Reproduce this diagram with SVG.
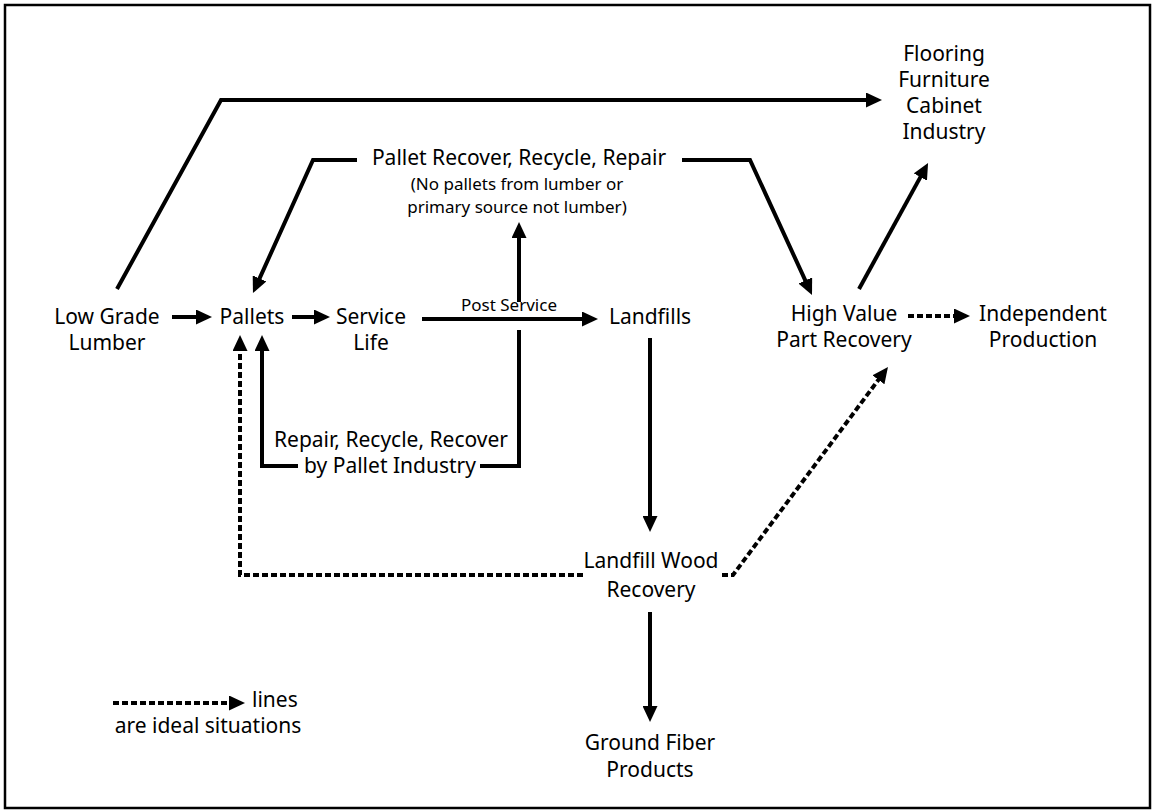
<svg xmlns="http://www.w3.org/2000/svg" width="1154" height="812" viewBox="0 0 1154 812">
<style>
text{font-family:"Noto Sans","DejaVu Sans",sans-serif;fill:#000;text-anchor:middle}
.m{font-size:21px}
.s{font-size:17px}
.p{font-size:17px}
.ln{fill:none;stroke:#000;stroke-width:4;stroke-linejoin:miter}
.a{marker-end:url(#ah)}
.d{stroke-dasharray:6 3}
</style>
<defs>
<marker id="ah" markerUnits="userSpaceOnUse" markerWidth="16" markerHeight="15" viewBox="0 0 16 15" refX="4" refY="7.5" orient="auto">
<path d="M0,0 L16,7.5 L0,15 z" fill="#000"/>
</marker>
</defs>
<rect x="5" y="5" width="1145" height="803" fill="#fff" stroke="#000" stroke-width="2.5"/>
<g id="connectors">
<path class="ln a" d="M117,289 L221,100 L870,100"/>
<path class="ln a" d="M172,317 L200,317"/>
<path class="ln a" d="M292,317 L318,317"/>
<path class="ln a" d="M422,319 L586,319"/>
<path class="ln a" d="M519,302 L519,234"/>
<path class="ln" d="M519,330 L519,466 L480,466"/>
<path class="ln a" d="M298,466 L262,466 L262,347"/>
<path class="ln a d" d="M583,575 L240,575 L240,347"/>
<path class="ln a" d="M357,160 L313,160 L257.9,282.1"/>
<path class="ln a" d="M682,160 L750,160 L807,284.1"/>
<path class="ln a" d="M650,338 L650,520"/>
<path class="ln a" d="M650,612 L650,710"/>
<path class="ln a" d="M859,289 L922.3,173.6"/>
<path class="ln a d" d="M908,316 L958,316"/>
<path class="ln a d" d="M722,575 L733,575 L880.8,376.6"/>
<path class="ln a d" d="M113,703 L233,703"/>
<text class="p" x="509" y="311">Post Service</text>
</g>
<g id="low-grade-lumber"><text class="m" x="107" y="324">Low Grade</text><text class="m" x="107" y="350">Lumber</text></g>
<g id="pallets"><text class="m" x="252" y="324">Pallets</text></g>
<g id="service-life"><text class="m" x="371" y="324">Service</text><text class="m" x="371" y="350">Life</text></g>
<g id="landfills"><text class="m" x="650" y="324">Landfills</text></g>
<g id="pallet-recover"><text class="m" x="519" y="165">Pallet Recover, Recycle, Repair</text><text class="s" x="517" y="190">(No pallets from lumber or</text><text class="s" x="517" y="213">primary source not lumber)</text></g>
<g id="repair-recycle"><text class="m" x="391" y="447">Repair, Recycle, Recover</text><text class="m" x="390" y="473">by Pallet Industry</text></g>
<g id="landfill-wood"><text class="m" x="651" y="568">Landfill Wood</text><text class="m" x="651" y="597">Recovery</text></g>
<g id="ground-fiber"><text class="m" x="650" y="750">Ground Fiber</text><text class="m" x="650" y="777">Products</text></g>
<g id="high-value"><text class="m" x="844" y="321">High Value</text><text class="m" x="844" y="347">Part Recovery</text></g>
<g id="independent"><text class="m" x="1043" y="321">Independent</text><text class="m" x="1043" y="347">Production</text></g>
<g id="flooring"><text class="m" x="944" y="61">Flooring</text><text class="m" x="944" y="87">Furniture</text><text class="m" x="944" y="113">Cabinet</text><text class="m" x="944" y="139">Industry</text></g>
<g id="legend"><text class="m" x="252" y="707" style="text-anchor:start">lines</text><text class="m" x="208" y="733">are ideal situations</text></g>
</svg>
